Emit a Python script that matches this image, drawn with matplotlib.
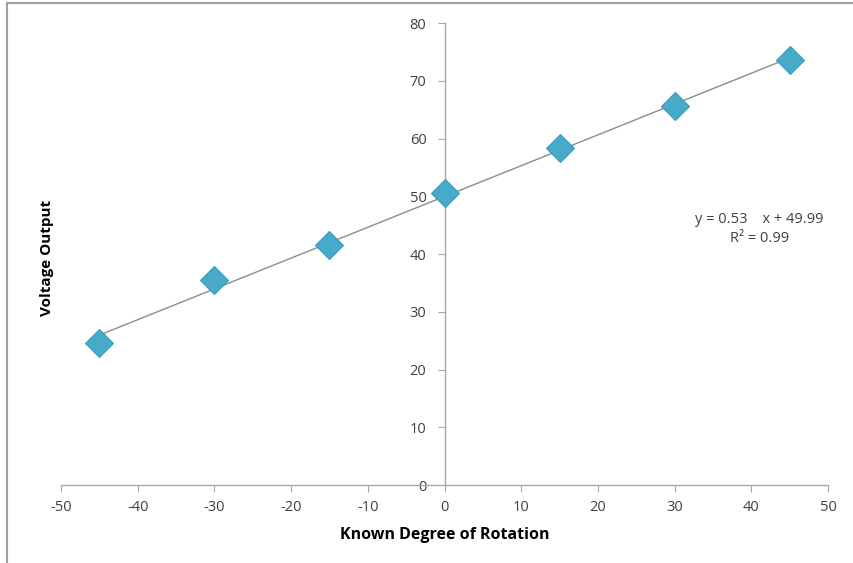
"""Scatter + linear trendline, Excel-style axes crossing at the origin."""

import matplotlib.pyplot as plt
import numpy as np
from matplotlib.lines import Line2D

# Data
degrees = [-45, -30, -15, 0, 15, 30, 45]
voltage = [24.6, 35.5, 41.5, 50.6, 58.4, 65.6, 73.6]
x_ticks = [-50, -40, -30, -20, -10, 0, 10, 20, 30, 40, 50]
y_ticks = [0, 10, 20, 30, 40, 50, 60, 70, 80]
eq_text = "y = 0.53    x + 49.99\nR² = 0.99"

GRAY = "#8c8c8c"
TEXT = "#404040"
plt.rcParams["font.family"] = ["Open Sans", "DejaVu Sans"]
plt.rcParams["axes.unicode_minus"] = False

fig = plt.figure(figsize=(8.54, 5.63), dpi=100)
ax = fig.add_axes([0.0714, 0.1385, 0.8982, 0.8205])

# trendline via least squares
slope, icpt = np.polyfit(degrees, voltage, 1)
xs = np.array([min(degrees), max(degrees)])
ax.plot(xs, slope * xs + icpt, color=GRAY, lw=1.0, zorder=2)
ax.plot(degrees, voltage, ls="none", marker="D", markersize=14,
        color="#46aac8", markeredgecolor="#3a9dbb", markeredgewidth=0.8, zorder=3)

ax.set_xlim(-50, 50)
ax.set_ylim(0, 80)
ax.set_xticks(x_ticks)
ax.set_yticks(y_ticks)

for side in ("top", "right"):
    ax.spines[side].set_visible(False)
ax.spines["left"].set_position(("data", 0))
ax.spines["bottom"].set_position(("data", 0))
for side in ("left", "bottom"):
    ax.spines[side].set_color("#a6a6a6")
    ax.spines[side].set_linewidth(1.0)
ax.tick_params(axis="both", direction="out", length=5, color="#a6a6a6",
               labelsize=10.5, labelcolor=TEXT)
ax.tick_params(axis="x", pad=6)
ax.tick_params(axis="y", pad=8)

fig.text(0.521, 0.05, "Known Degree of Rotation", ha="center", va="center",
         fontsize=11.5, fontweight="bold", color="black")
fig.text(0.055, 0.542, "Voltage Output", ha="center", va="center", rotation=90,
         fontsize=11, fontweight="bold", color="black")
fig.text(0.889, 0.593, eq_text, ha="center", va="center", fontsize=10.5,
         color=TEXT, linespacing=1.4)

# chart frame (top and left edges visible in the crop)
fig.add_artist(Line2D([0.008, 1.0], [0.995, 0.995], color="#a0a0a0", lw=1.5,
                      transform=fig.transFigure))
fig.add_artist(Line2D([0.008, 0.008], [0.0, 0.995], color="#a0a0a0", lw=1.5,
                      transform=fig.transFigure))

fig.savefig("out.png", dpi=100)
